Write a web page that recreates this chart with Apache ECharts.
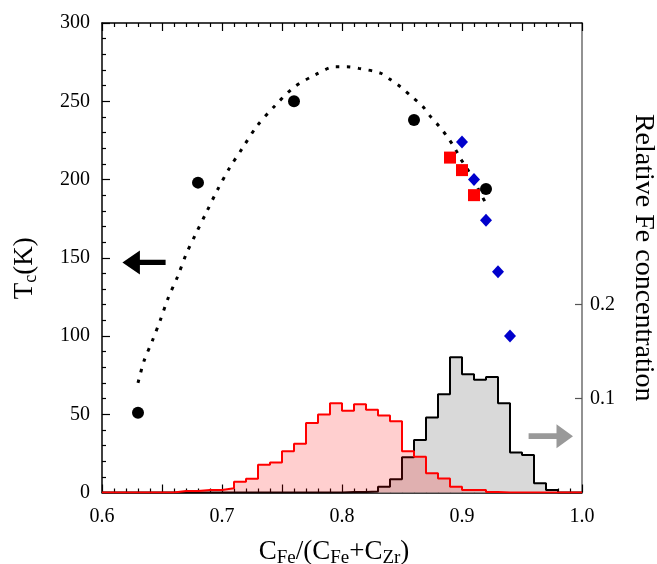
<!DOCTYPE html>
<html><head><meta charset="utf-8">
<script src="https://cdn.jsdelivr.net/npm/echarts@6/dist/echarts.min.js"></script>
<style>html,body{margin:0;padding:0;background:#fff}#c{width:657px;height:564px}</style>
</head><body><div id="c"></div>
<script>
const FONT = "'Liberation Serif','Times New Roman','DejaVu Serif',serif";

// tick labels
const xTickLabels = [0.6, 0.7, 0.8, 0.9, 1.0];
const rightTickLabels = [0.1, 0.2];

// Tc data (left axis)
const circleX  = [0.63, 0.68, 0.76, 0.86, 0.92];
const circleTc = [51, 198, 250, 238, 194];
const squareX  = [0.89, 0.90, 0.91];
const squareTc = [214, 206, 190];
const diamondX  = [0.90, 0.91, 0.92, 0.93, 0.94];
const diamondTc = [224, 200, 174, 141, 100];

// dotted guide curve
const fitX  = [0.630,0.635,0.642,0.649,0.655,0.663,0.670,0.678,0.687,0.696,0.706,0.717,0.729,0.744,0.760,0.778,0.794,0.804,0.814,0.832,0.840,0.849,0.858,0.867,0.874,0.881,0.888,0.894,0.899,0.905,0.919];
const fitTc = [70,84,97,111,124,138,152,165,179,193,207,220,234,247,259,267,272,272,271,268,264,259,253,247,240,234,227,220,213,206,186];

// histograms (right axis), bins of width 0.01
const binLeft = [0.60,0.61,0.62,0.63,0.64,0.65,0.66,0.67,0.68,0.69,
                 0.70,0.71,0.72,0.73,0.74,0.75,0.76,0.77,0.78,0.79,
                 0.80,0.81,0.82,0.83,0.84,0.85,0.86,0.87,0.88,0.89,
                 0.90,0.91,0.92,0.93,0.94,0.95,0.96,0.97,0.98,0.99];
const binEnd = 1.0;
const redHist = [0,0,0,0,0,0,0.0015,0.0015,0.0027,0.0027,
                 0.0045,0.0115,0.0147,0.0296,0.032,0.044,0.052,0.074,0.083,0.095,
                 0.087,0.094,0.088,0.082,0.076,0.044,0.038,0.0205,0.015,0.006,
                 0.0027,0.0027,0.0005,0,0,0,0,0,0,0];
const blackHist = [0,0,0,0,0,0,0,0,0,0,
                   0,0,0,0,0,0,0,0,0,0,
                   0.0005,0.0005,0.001,0.006,0.014,0.0375,0.056,0.080,0.1047,0.144,
                   0.126,0.120,0.123,0.095,0.0425,0.040,0.0098,0.0027,0,0];

// annotation arrows (data coords)
const arrowTc  = {from: [0.653, 147], to: [0.617, 147]};
const arrowFe  = {from: [0.9555, 0.060], to: [0.9925, 0.060]};

function stepData(vals) {
  const d = binLeft.map((x, i) => [x, vals[i]]);
  d.push([binEnd, vals[vals.length - 1]]);
  return d;
}
const zip = (a, b) => a.map((v, i) => [v, b[i]]);

const chart = echarts.init(document.getElementById('c'), null, {renderer: 'canvas'});
const tickStyle = {color: '#000', width: 1.2};
const option = {
  animation: false,
  backgroundColor: '#fff',
  grid: {left: 102, top: 23, width: 480, height: 469.5, containLabel: false, outerBoundsMode: 'none'},
  xAxis: [{
    type: 'value', min: 0.6, max: 1.0, interval: 0.05, position: 'bottom',
    axisLine: {show: true, onZero: false, lineStyle: {color: '#000', width: 1.5}},
    axisTick: {show: true, inside: true, length: 8, lineStyle: tickStyle},
    minorTick: {show: true, splitNumber: 5, length: 4, lineStyle: tickStyle},
    splitLine: {show: false},
    axisLabel: {customValues: xTickLabels, formatter: v => v.toFixed(1), fontFamily: FONT, fontSize: 20, color: '#000', margin: 14},
    name: '{a|C}{s|Fe}{a|/(C}{s|Fe}{a|+C}{s|Zr}{a|)}',
    nameLocation: 'middle', nameGap: 43,
    nameTextStyle: {padding: [0, 16, 0, 0], rich: {
      a: {fontFamily: FONT, fontSize: 27, color: '#000', lineHeight: 32},
      s: {fontFamily: FONT, fontSize: 19, color: '#000', lineHeight: 20, verticalAlign: 'bottom'}
    }}
  }, {
    type: 'value', min: 0.6, max: 1.0, interval: 0.05, position: 'top',
    axisLine: {show: true, onZero: false, lineStyle: {color: '#000', width: 1.5}},
    axisTick: {show: true, inside: true, length: 8, lineStyle: tickStyle},
    minorTick: {show: true, splitNumber: 5, length: 4, lineStyle: tickStyle},
    splitLine: {show: false}, axisLabel: {show: false}
  }],
  yAxis: [{
    type: 'value', min: 0, max: 300, interval: 50, position: 'left',
    axisLine: {show: true, onZero: false, lineStyle: {color: '#000', width: 1.5}},
    axisTick: {show: true, inside: true, length: 8, lineStyle: tickStyle},
    minorTick: {show: true, splitNumber: 5, length: 4, lineStyle: tickStyle},
    splitLine: {show: false},
    axisLabel: {fontFamily: FONT, fontSize: 20, color: '#000', margin: 12},
    name: '{a|T}{s|c}{a|(K)}', nameLocation: 'middle', nameGap: 62, nameRotate: 90,
    nameTextStyle: {padding: [0, 21, 0, 0], rich: {
      a: {fontFamily: FONT, fontSize: 27, color: '#000', lineHeight: 30},
      s: {fontFamily: FONT, fontSize: 18, color: '#000', lineHeight: 18, verticalAlign: 'bottom'}
    }}
  }, {
    type: 'value', min: 0, max: 0.5, interval: 0.1, position: 'right',
    axisLine: {show: true, onZero: false, lineStyle: {color: '#6e6e6e', width: 1.5}},
    axisTick: {show: true, inside: true, length: 7, customValues: rightTickLabels, lineStyle: {color: '#555', width: 1.2}},
    splitLine: {show: false},
    axisLabel: {customValues: rightTickLabels, formatter: v => v.toFixed(1), fontFamily: FONT, fontSize: 20, color: '#000', margin: 8},
    name: 'Relative Fe concentration', nameLocation: 'middle', nameGap: 47, nameRotate: -90,
    nameTextStyle: {fontFamily: FONT, fontSize: 28, color: '#000', padding: [0, 0, 0, 0]}
  }],
  series: [
    {type: 'line', name: 'hist-black', xAxisIndex: 0, yAxisIndex: 1, step: 'end', data: stepData(blackHist),
     showSymbol: false, symbol: 'none', lineStyle: {color: '#000', width: 2}, areaStyle: {color: '#d9d9d9', opacity: 1}, z: 2},
    {type: 'line', name: 'hist-red', xAxisIndex: 0, yAxisIndex: 1, step: 'end', data: stepData(redHist),
     showSymbol: false, symbol: 'none', lineStyle: {color: '#ff0000', width: 2}, areaStyle: {color: 'rgba(255,0,0,0.19)', opacity: 1}, z: 3},
    {type: 'line', name: 'fit', xAxisIndex: 0, yAxisIndex: 0, data: zip(fitX, fitTc), smooth: 0.3,
     showSymbol: false, symbol: 'none', lineStyle: {color: '#000', width: 3, type: [3.5, 7.5], cap: 'butt'}, z: 4},
    {type: 'scatter', name: 'circles', yAxisIndex: 0, data: zip(circleX, circleTc), symbol: 'circle', symbolSize: 12,
     itemStyle: {color: '#000', opacity: 1}, z: 5},
    {type: 'scatter', name: 'squares', yAxisIndex: 0, data: zip(squareX, squareTc), symbol: 'rect', symbolSize: 12,
     itemStyle: {color: '#ff0000', opacity: 1}, z: 6},
    {type: 'scatter', name: 'diamonds', yAxisIndex: 0, data: zip(diamondX, diamondTc), symbol: 'diamond', symbolSize: [12, 13],
     itemStyle: {color: '#0000cc', opacity: 1}, z: 7}
  ]
};
chart.setOption(option);

function arrowShape(p0, p1, headLen, headHalf, shaftHalf) {
  const dir = p1[0] > p0[0] ? 1 : -1;
  const bx = p1[0] - dir * headLen, y = p1[1];
  return [[p0[0], y - shaftHalf], [bx, y - shaftHalf], [bx, y - headHalf], [p1[0], y],
          [bx, y + headHalf], [bx, y + shaftHalf], [p0[0], y + shaftHalf]];
}
const a0 = chart.convertToPixel({xAxisIndex: 0, yAxisIndex: 0}, arrowTc.from);
const a1 = chart.convertToPixel({xAxisIndex: 0, yAxisIndex: 0}, arrowTc.to);
const b0 = chart.convertToPixel({xAxisIndex: 0, yAxisIndex: 1}, arrowFe.from);
const b1 = chart.convertToPixel({xAxisIndex: 0, yAxisIndex: 1}, arrowFe.to);
chart.setOption({graphic: [
  {type: 'polygon', shape: {points: arrowShape(a0, a1, 17.5, 12, 2.6)}, style: {fill: '#000'}, z: 10},
  {type: 'polygon', shape: {points: arrowShape(b0, b1, 16.5, 12, 2.8)}, style: {fill: '#999999'}, z: 10}
]});
</script></body></html>
